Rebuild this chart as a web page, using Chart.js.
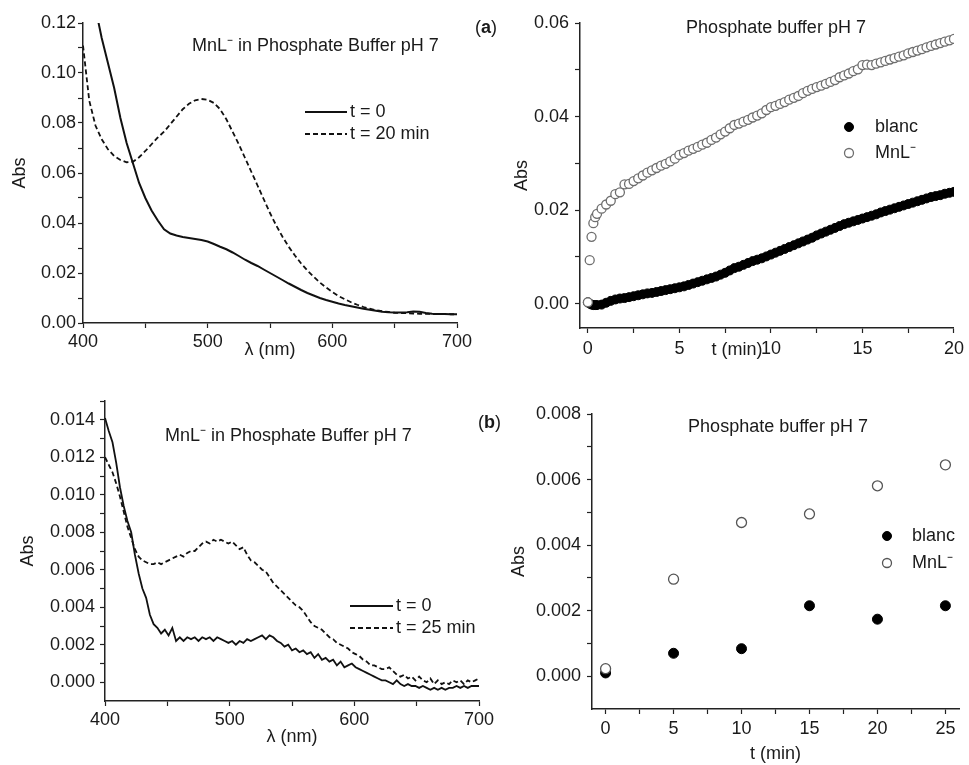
<!DOCTYPE html>
<html lang="en">
<head>
<meta charset="UTF-8">
<title>MnL⁻ in Phosphate Buffer pH 7</title>
<script src="https://cdn.jsdelivr.net/npm/chart.js@4.4.1/dist/chart.umd.min.js"></script>
<style>
  body { margin: 0; background: #fff; }
  #fig { position: relative; width: 969px; height: 765px; overflow: hidden; background: #fff; }
  #fig canvas { position: absolute; }
</style>
</head>
<body>
<div id="fig">
  <canvas id="spec20" width="480" height="370" style="left:0;top:0"></canvas>
  <canvas id="kin20" width="509" height="370" style="left:460px;top:0"></canvas>
  <canvas id="spec25" width="500" height="395" style="left:0;top:370px"></canvas>
  <canvas id="kin25" width="509" height="395" style="left:460px;top:370px"></canvas>
</div>

<script>
// ---- data ----

// top left: spectra, t = 0 and t = 20 min
const lambdaA = [400,405,410,415,420,425,430,435,440,445,450,455,460,465,470,475,480,485,490,495,
  500,505,510,515,520,525,530,535,540,545,550,555,560,565,570,575,580,585,590,595,
  600,605,610,615,620,625,630,635,640,645,650,655,660,665,670,675,680,685,690,695,700];
const abs0A = [0.150,0.138,0.126,0.114,0.104,0.094,0.082,0.072,0.064,0.056,
  0.050,0.045,0.041,0.0375,0.0358,0.0350,0.0344,0.0340,0.0336,0.0332,
  0.0326,0.0316,0.0305,0.0295,0.0282,0.0268,0.0253,0.0240,0.0228,0.0214,
  0.0200,0.0186,0.0172,0.0158,0.0145,0.0132,0.0120,0.0110,0.0100,0.0092,
  0.0085,0.0078,0.0072,0.0067,0.0062,0.0057,0.0053,0.0049,0.0045,0.0043,
  0.0042,0.0042,0.0043,0.0046,0.0045,0.0040,0.0037,0.0036,0.0036,0.0035,0.0035];
const abs20A = [0.111,0.089,0.079,0.0735,0.0695,0.0668,0.0652,0.0643,0.0645,0.0663,
  0.0688,0.0715,0.0742,0.0765,0.0795,0.0825,0.0855,0.0877,0.0891,0.0896,
  0.0893,0.0880,0.0855,0.0815,0.0765,0.0715,0.0660,0.0605,0.0550,0.0495,
  0.0440,0.0390,0.0345,0.0305,0.0270,0.0238,0.0210,0.0185,0.0162,0.0142,
  0.0124,0.0108,0.0095,0.0083,0.0073,0.0064,0.0057,0.0051,0.0047,0.0044,
  0.0041,0.0040,0.0039,0.0038,0.0037,0.0037,0.0036,0.0036,0.0036,0.0035,0.0035];

// top right: kinetics over 20 min
const tMinA = [0,0.1,0.2,0.3,0.4,0.5,0.75,1,1.25,1.5,1.75,2,2.25,2.5,2.75,3,
  3.25,3.5,3.75,4,4.25,4.5,4.75,5,5.25,5.5,5.75,6,6.25,6.5,6.75,7,
  7.25,7.5,7.75,8,8.25,8.5,8.75,9,9.25,9.5,9.75,10,10.25,10.5,10.75,11,
  11.25,11.5,11.75,12,12.25,12.5,12.75,13,13.25,13.5,13.75,14,14.25,14.5,14.75,15,
  15.25,15.5,15.75,16,16.25,16.5,16.75,17,17.25,17.5,17.75,18,18.25,18.5,18.75,19,
  19.25,19.5,19.75,20];
const blancA = [0.0003,0.0000,-0.0002,-0.0003,-0.0003,-0.0003,
  -0.0002,0.0002,0.0006,0.0009,0.0011,0.0012,0.0014,0.0016,0.0018,0.0020,
  0.0022,0.0023,0.0025,0.0027,0.0029,0.0031,0.0033,0.0035,
  0.0037,0.0040,0.0043,0.0046,0.0049,0.0052,0.0055,0.0058,
  0.0062,0.0066,0.0071,0.0076,0.0079,0.0083,0.0087,0.0091,
  0.0094,0.0097,0.0101,0.0105,0.0109,0.0113,0.0117,0.0121,
  0.0125,0.0129,0.0133,0.0137,0.0141,0.0146,0.0150,0.0154,
  0.0158,0.0162,0.0166,0.0170,0.0173,0.0176,0.0179,0.0182,
  0.0185,0.0188,0.0191,0.0195,0.0198,0.0201,0.0204,0.0207,
  0.0210,0.0213,0.0216,0.0219,0.0222,0.0225,0.0228,0.0230,
  0.0232,0.0235,0.0237,0.0239];
const mnlA = [0.0003,0.0093,0.0143,0.0172,0.0185,0.0192,
  0.0203,0.0212,0.0220,0.0234,0.0238,0.0255,0.0256,0.0262,0.0268,0.0274,
  0.0280,0.0285,0.0290,0.0295,0.0299,0.0304,0.0310,0.0318,
  0.0322,0.0327,0.0331,0.0335,0.0340,0.0344,0.0350,0.0355,
  0.0362,0.0368,0.0375,0.0382,0.0385,0.0389,0.0393,0.0398,
  0.0402,0.0407,0.0414,0.0420,0.0423,0.0427,0.0431,0.0436,
  0.0440,0.0444,0.0450,0.0455,0.0459,0.0463,0.0466,0.0470,
  0.0474,0.0478,0.0484,0.0488,0.0492,0.0497,0.0501,0.0510,
  0.0511,0.0510,0.0513,0.0516,0.0519,0.0522,0.0525,0.0528,
  0.0531,0.0535,0.0538,0.0541,0.0544,0.0548,0.0551,0.0554,
  0.0557,0.0560,0.0563,0.0566];

// bottom left: spectra, t = 0 and t = 25 min
const lambdaB = [400,403,406,409,412,415,418,421,424,427,430,433,436,439,442,445,448,451,454,457,
  460,463,466,469,472,475,478,481,484,487,490,493,496,499,502,505,508,511,514,517,
  520,523,526,529,532,535,538,541,544,547,550,553,556,559,562,565,568,571,574,577,
  580,583,586,589,592,595,598,601,604,607,610,613,616,619,622,625,628,631,634,637,
  640,643,646,649,652,655,658,661,664,667,670,673,676,679,682,685,688,691,694,697,700];
const abs0B = [0.0141,0.0134,0.0128,0.0117,0.0104,0.0094,0.0086,0.0080,0.0068,0.0058,
  0.0050,0.0045,0.0036,0.0031,0.0029,0.0026,0.0028,0.0025,0.0029,0.0022,
  0.0024,0.0022,0.0024,0.0023,0.0024,0.0022,0.0024,0.0023,0.0024,0.0022,
  0.0024,0.0023,0.0022,0.0021,0.0022,0.0020,0.0022,0.0021,0.0023,0.0022,
  0.0023,0.0024,0.0025,0.0023,0.0025,0.0024,0.0022,0.0021,0.0019,0.0020,
  0.0017,0.0018,0.0016,0.0017,0.0015,0.0016,0.0013,0.0015,0.0012,0.0013,
  0.0011,0.0012,0.0009,0.0011,0.0008,0.0009,0.0010,0.0008,0.0007,0.0006,
  0.0005,0.0004,0.0003,0.0002,0.0001,0.0001,0.0000,-0.0001,0.0001,-0.0001,
  -0.0002,-0.0001,-0.0002,-0.0002,-0.0003,-0.0002,-0.0003,-0.0004,-0.0003,-0.0004,
  -0.0003,-0.0004,-0.0003,-0.0003,-0.0002,-0.0003,-0.0002,-0.0003,-0.0002,-0.0002,-0.0002];
const abs25B = [0.0120,0.0116,0.0112,0.0106,0.0099,0.0091,0.0083,0.0077,0.0071,0.0067,
  0.0065,0.0064,0.0063,0.0063,0.0064,0.0063,0.0064,0.0065,0.0066,0.0067,
  0.0068,0.0067,0.0069,0.0070,0.0070,0.0072,0.0074,0.0075,0.0074,0.0076,
  0.0075,0.0076,0.0075,0.0074,0.0075,0.0073,0.0071,0.0072,0.0068,0.0065,
  0.0064,0.0062,0.0060,0.0059,0.0056,0.0053,0.0051,0.0049,0.0047,0.0045,
  0.0043,0.0041,0.0040,0.0038,0.0035,0.0032,0.0030,0.0029,0.0028,0.0026,
  0.0024,0.0023,0.0021,0.0020,0.0019,0.0018,0.0016,0.0015,0.0014,0.0012,
  0.0011,0.0009,0.0009,0.0008,0.0007,0.0007,0.0008,0.0006,0.0004,0.0003,
  0.0004,0.0002,0.0003,0.0001,0.0003,0.0001,0.0000,0.0002,-0.0001,0.0001,
  -0.0001,0.0000,-0.0001,0.0001,0.0000,0.0001,-0.0001,0.0001,0.0000,0.0001,0.0002];

// bottom right: single readings every 5 min
const tMinB = [0, 5, 10, 15, 20, 25];
const blancB = [0.0001, 0.0007, 0.00084, 0.00215, 0.00174, 0.00215];
const mnlB = [0.00023, 0.00296, 0.00469, 0.00495, 0.00581, 0.00645];

// ticks (minor step; labels only where a value is printed)
const ticksNm = [400, 450, 500, 550, 600, 650, 700];
const ticksAbsA = [0,0.01,0.02,0.03,0.04,0.05,0.06,0.07,0.08,0.09,0.10,0.11,0.12];
const ticksT20 = [0, 2.5, 5, 7.5, 10, 12.5, 15, 17.5, 20];
const ticksAbsK20 = [0, 0.01, 0.02, 0.03, 0.04, 0.05, 0.06];
const ticksAbsB = [0,0.001,0.002,0.003,0.004,0.005,0.006,0.007,0.008,0.009,0.010,0.011,0.012,0.013,0.014,0.015];
const ticksT25 = [0, 2.5, 5, 7.5, 10, 12.5, 15, 17.5, 20, 22.5, 25];
const ticksAbsK25 = [0,0.001,0.002,0.003,0.004,0.005,0.006,0.007,0.008];

// ---- common setup ----
Chart.defaults.font.family = "'Liberation Sans', Arial, Helvetica, sans-serif";
Chart.defaults.font.size = 18;
Chart.defaults.color = '#1a1a1a';
Chart.defaults.animation = false;

const INK = '#1a1a1a';

function pts(xs, ys) {
  return xs.map((x, i) => ({ x: x, y: ys[i] }));
}

function printed(v, every) {
  const r = v / every;
  return Math.abs(r - Math.round(r)) < 1e-6;
}

// axis with fixed size so the plot areas line up with the figure
function axis(o) {
  return {
    type: 'linear',
    position: o.pos,
    min: o.min,
    max: o.max,
    afterBuildTicks: s => { s.ticks = o.ticks.map(v => ({ value: v })); },
    afterFit: s => { if (o.pos === 'left') s.width = o.size; else s.height = o.size; },
    border: { display: true, color: '#222', width: 1.5 },
    grid: { drawOnChartArea: false, drawTicks: true, tickLength: 5, color: '#222', tickWidth: 1.2 },
    ticks: {
      autoSkip: false, maxRotation: 0, padding: o.tickPad, color: INK,
      callback: v => printed(v, o.every) ? v.toFixed(o.dec) : ''
    },
    title: { display: !!o.title, text: o.title, color: INK, padding: o.titlePad || 0 }
  };
}

// texts and keys drawn inside the plot
function notes(cfg) {
  return {
    id: 'notes',
    afterDraw(chart) {
      const ctx = chart.ctx;
      const fnt = b => (b ? 'bold ' : '') + "18px 'Liberation Sans', Arial, sans-serif";
      ctx.save();
      ctx.textBaseline = 'middle';
      ctx.textAlign = 'left';
      ctx.fillStyle = INK;
      (cfg.texts || []).forEach(t => {
        const parts = t.parts || [{ s: t.text }];
        const w = parts.map(p => { ctx.font = fnt(p.b); return ctx.measureText(p.s).width; });
        let x = t.x;
        if (t.align === 'center') x -= w.reduce((a, b) => a + b, 0) / 2;
        parts.forEach((p, i) => {
          ctx.font = fnt(p.b);
          ctx.fillText(p.s, x, t.y);
          x += w[i];
        });
      });
      (cfg.keys || []).forEach(k => {
        const ds = chart.data.datasets[k.ds];
        if (k.len) {
          ctx.beginPath();
          ctx.setLineDash(ds.borderDash || []);
          ctx.lineWidth = ds.borderWidth;
          ctx.strokeStyle = ds.borderColor;
          ctx.moveTo(k.x, k.y);
          ctx.lineTo(k.x + k.len, k.y);
          ctx.stroke();
          ctx.setLineDash([]);
        } else {
          ctx.beginPath();
          ctx.arc(k.x, k.y, k.r, 0, Math.PI * 2);
          ctx.fillStyle = ds.pointBackgroundColor;
          ctx.fill();
          ctx.lineWidth = ds.pointBorderWidth;
          ctx.strokeStyle = ds.pointBorderColor;
          ctx.stroke();
        }
        ctx.font = fnt(false);
        ctx.fillStyle = INK;
        ctx.fillText(ds.label, k.tx, k.y);
      });
      ctx.restore();
    }
  };
}

function baseOptions(pad, x, y) {
  return {
    responsive: false,
    animation: false,
    events: [],
    layout: { padding: pad },
    plugins: { legend: { display: false }, tooltip: { enabled: false } },
    scales: { x: x, y: y }
  };
}

// ---- top left ----
new Chart(document.getElementById('spec20'), {
  type: 'scatter',
  data: {
    datasets: [
      { label: 't = 0', data: pts(lambdaA, abs0A), showLine: true, pointRadius: 0,
        borderColor: '#111', borderWidth: 2 },
      { label: 't = 20 min', data: pts(lambdaA, abs20A), showLine: true, pointRadius: 0,
        borderColor: '#111', borderWidth: 1.8, borderDash: [5, 3] }
    ]
  },
  options: baseOptions({ top: 23, right: 23, left: 0, bottom: 0 },
    axis({ pos: 'bottom', min: 400, max: 700, ticks: ticksNm, every: 100, dec: 0, size: 47, tickPad: 3,
           title: 'λ (nm)', titlePad: 9 }),
    axis({ pos: 'left', min: 0, max: 0.12, ticks: ticksAbsA, every: 0.02, dec: 2, size: 83, tickPad: 2,
           title: 'Abs', titlePad: 9 })),
  plugins: [notes({
    texts: [{ text: 'MnL⁻ in Phosphate Buffer pH 7', x: 192, y: 46 }],
    keys: [
      { ds: 0, x: 305, y: 112, len: 42, tx: 350 },
      { ds: 1, x: 305, y: 134, len: 42, tx: 350 }
    ]
  })]
});

// ---- top right ----
new Chart(document.getElementById('kin20'), {
  type: 'scatter',
  data: {
    datasets: [
      { label: 'blanc', data: pts(tMinA, blancA), order: 1, pointRadius: 4.5,
        pointBackgroundColor: '#000', pointBorderColor: '#000', pointBorderWidth: 1 },
      { label: 'MnL⁻', data: pts(tMinA, mnlA), order: 0, pointRadius: 4.5,
        pointBackgroundColor: '#fff', pointBorderColor: '#6e6e6e', pointBorderWidth: 1.3 }
    ]
  },
  options: baseOptions({ top: 23, right: 11, left: 42, bottom: 0 },
    axis({ pos: 'bottom', min: -0.43, max: 20, ticks: ticksT20, every: 5, dec: 0, size: 42, tickPad: 5 }),
    axis({ pos: 'left', min: -0.0052, max: 0.06, ticks: ticksAbsK20, every: 0.02, dec: 2, size: 78, tickPad: 6,
           title: 'Abs', titlePad: 9 })),
  plugins: [notes({
    texts: [
      { parts: [{ s: '(' }, { s: 'a', b: true }, { s: ')' }], x: 15, y: 28 },
      { text: 'Phosphate buffer pH 7', x: 316, y: 28, align: 'center' },
      { text: 't (min)', x: 277, y: 350, align: 'center' }
    ],
    keys: [
      { ds: 0, x: 389, y: 127, r: 4.5, tx: 415 },
      { ds: 1, x: 389, y: 153, r: 4.5, tx: 415 }
    ]
  })]
});

// ---- bottom left ----
new Chart(document.getElementById('spec25'), {
  type: 'scatter',
  data: {
    datasets: [
      { label: 't = 0', data: pts(lambdaB, abs0B), showLine: true, pointRadius: 0,
        borderColor: '#111', borderWidth: 1.8 },
      { label: 't = 25 min', data: pts(lambdaB, abs25B), showLine: true, pointRadius: 0,
        borderColor: '#111', borderWidth: 1.8, borderDash: [5, 3] }
    ]
  },
  options: baseOptions({ top: 31, right: 21, left: 0, bottom: 0 },
    axis({ pos: 'bottom', min: 400, max: 700, ticks: ticksNm, every: 100, dec: 0, size: 64, tickPad: 3,
           title: 'λ (nm)', titlePad: 17 }),
    axis({ pos: 'left', min: -0.001, max: 0.015, ticks: ticksAbsB, every: 0.002, dec: 3, size: 105, tickPad: 5,
           title: 'Abs', titlePad: 17 })),
  plugins: [notes({
    texts: [{ text: 'MnL⁻ in Phosphate Buffer pH 7', x: 165, y: 66 }],
    keys: [
      { ds: 0, x: 350, y: 236, len: 43, tx: 396 },
      { ds: 1, x: 350, y: 258, len: 43, tx: 396 }
    ]
  })]
});

// ---- bottom right ----
new Chart(document.getElementById('kin25'), {
  type: 'scatter',
  data: {
    datasets: [
      { label: 'blanc', data: pts(tMinB, blancB), order: 1, pointRadius: 5,
        pointBackgroundColor: '#000', pointBorderColor: '#000', pointBorderWidth: 1 },
      { label: 'MnL⁻', data: pts(tMinB, mnlB), order: 0, pointRadius: 5,
        pointBackgroundColor: '#fff', pointBorderColor: '#555', pointBorderWidth: 1.3 }
    ]
  },
  options: baseOptions({ top: 44, right: 10, left: 40, bottom: 0 },
    axis({ pos: 'bottom', min: -1, max: 26, ticks: ticksT25, every: 5, dec: 0, size: 56, tickPad: 4,
           title: 't (min)', titlePad: 0 }),
    axis({ pos: 'left', min: -0.001, max: 0.008, ticks: ticksAbsK25, every: 0.002, dec: 3, size: 92, tickPad: 6,
           title: 'Abs', titlePad: 8 })),
  plugins: [notes({
    texts: [
      { parts: [{ s: '(' }, { s: 'b', b: true }, { s: ')' }], x: 18, y: 53 },
      { text: 'Phosphate buffer pH 7', x: 318, y: 57, align: 'center' }
    ],
    keys: [
      { ds: 0, x: 427, y: 166, r: 4.5, tx: 452 },
      { ds: 1, x: 427, y: 193, r: 4.5, tx: 452 }
    ]
  })]
});
</script>
</body>
</html>
